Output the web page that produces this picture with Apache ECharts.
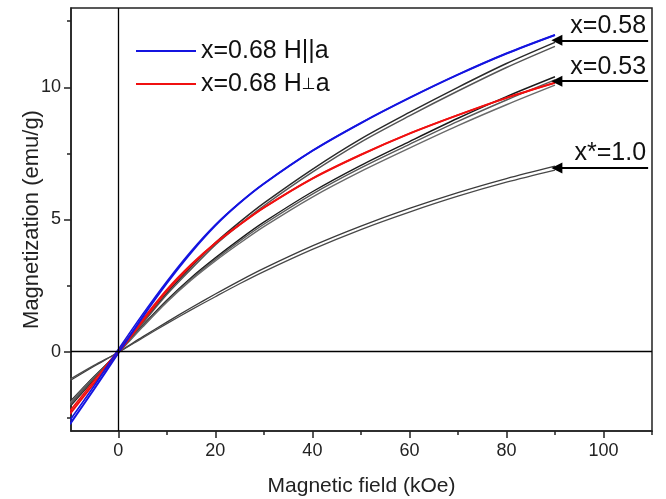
<!DOCTYPE html>
<html>
<head>
<meta charset="utf-8">
<script src="https://cdn.jsdelivr.net/npm/echarts@6/dist/echarts.min.js"></script>
<style>
  html, body { margin: 0; padding: 0; background: #fff; }
  #chart { width: 666px; height: 499px; }
</style>
</head>
<body>
<div id="chart"></div>
<script>
// Magnetic field sampling points (kOe)
const fieldKOe = [-10, -5, 0, 5, 10, 15, 20, 25, 30, 40, 50, 60, 70, 80, 90];

// Magnetization (emu/g), x = 0.68, field parallel to a (two sweep branches)
const m068ParA = [-2.75, -1.42, -0.05, 1.31, 2.59, 3.75, 4.77, 5.62, 6.35, 7.60, 8.65, 9.60, 10.48, 11.28, 11.98];
const m068ParB = [-2.60, -1.30, 0.08, 1.41, 2.66, 3.80, 4.80, 5.63, 6.36, 7.60, 8.65, 9.60, 10.48, 11.28, 11.98];
// x = 0.68, field perpendicular to a
const m068PerpA = [-2.36, -1.20, -0.05, 1.15, 2.30, 3.27, 4.10, 4.80, 5.45, 6.55, 7.45, 8.25, 8.95, 9.60, 10.17];
const m068PerpB = [-2.25, -1.10, 0.05, 1.22, 2.35, 3.30, 4.12, 4.81, 5.45, 6.55, 7.45, 8.25, 8.95, 9.60, 10.17];
// x = 0.58
const m058A = [-2.08, -1.05, -0.04, 1.10, 2.22, 3.20, 4.12, 4.90, 5.62, 6.90, 8.05, 9.05, 10.00, 10.90, 11.70];
const m058B = [-2.02, -1.00, -0.02, 1.07, 2.16, 3.12, 4.04, 4.81, 5.52, 6.79, 7.93, 8.92, 9.86, 10.75, 11.55];
// x = 0.53
const m053A = [-1.90, -0.94, -0.03, 0.99, 1.95, 2.80, 3.55, 4.25, 4.90, 6.05, 7.05, 7.95, 8.83, 9.65, 10.40];
const m053B = [-1.93, -0.96, -0.04, 0.96, 1.91, 2.75, 3.49, 4.18, 4.82, 5.96, 6.95, 7.84, 8.71, 9.52, 10.28];
const m053C = [-1.95, -0.98, -0.05, 0.93, 1.87, 2.70, 3.43, 4.10, 4.73, 5.85, 6.82, 7.70, 8.55, 9.34, 10.08];
// x* = 1.0
const m100A = [-1.10, -0.55, -0.02, 0.56, 1.12, 1.66, 2.18, 2.68, 3.15, 4.00, 4.75, 5.42, 6.02, 6.55, 7.02];
const m100B = [-1.05, -0.52, -0.03, 0.52, 1.06, 1.58, 2.08, 2.57, 3.03, 3.87, 4.62, 5.28, 5.88, 6.41, 6.87];

// Tick values
const xMajorTicks = [0, 20, 40, 60, 80, 100];
const xMinorTicks = [10, 30, 50, 70, 90, 110];
const yMajorTicks = [0, 5, 10];
const yMinorTicks = [-2.5, 2.5, 7.5, 12.5];

// Curve-end annotations
const noteLabels = ['x=0.58', 'x=0.53', 'x*=1.0'];
const noteLevels = [11.78, 10.23, 6.95];
const noteTip = 90.4;
const noteTail = 109.2;

const FONT = '"Liberation Sans", Arial, sans-serif';
const nameParA = 'x=0.68 H||a';
const namePerpA = 'x=0.68 H⊥a';

function curve(name, values, color, width, z) {
  return {
    name: name,
    type: 'line',
    data: fieldKOe.map((h, i) => [h, values[i]]),
    showSymbol: false,
    smooth: 0.3,
    lineStyle: { color: color, width: width },
    itemStyle: { color: color },
    z: z,
    silent: true,
    animation: false
  };
}

const series = [
  curve('x*=1.0 a', m100A, '#3c3c3c', 1.3, 2),
  curve('x*=1.0 b', m100B, '#4a4a4a', 1.3, 2),
  curve('x=0.53 a', m053A, '#1a1a1a', 1.4, 2),
  curve('x=0.53 b', m053B, '#5a5a5a', 1.4, 2),
  curve('x=0.53 c', m053C, '#6a6a6a', 1.4, 2),
  curve('x=0.58 a', m058A, '#2a2a2a', 1.5, 2),
  curve('x=0.58 b', m058B, '#555555', 1.5, 2),
  curve(namePerpA, m068PerpA, '#f01010', 2, 3),
  curve(namePerpA + ' b', m068PerpB, '#f01010', 1.6, 3),
  curve(nameParA, m068ParA, '#1414e0', 2, 4),
  curve(nameParA + ' b', m068ParB, '#1414e0', 1.6, 4)
];

// zero reference lines
series[0].markLine = {
  silent: true,
  animation: false,
  symbol: ['none', 'none'],
  lineStyle: { color: '#000', width: 1.3, type: 'solid' },
  label: { show: false },
  data: [{ xAxis: 0 }, { yAxis: 0 }]
};

// arrows with sample labels
series[1].markLine = {
  silent: true,
  animation: false,
  symbol: ['triangle', 'none'],
  symbolSize: 11,
  lineStyle: { color: '#000', width: 2, type: 'solid' },
  itemStyle: { color: '#000' },
  label: {
    show: true,
    position: 'insideEndTop',
    formatter: '{b}',
    fontFamily: FONT,
    fontSize: 25,
    color: '#111',
    distance: 2
  },
  data: noteLabels.map((t, i) => [
    { coord: [noteTip, noteLevels[i]], name: t },
    { coord: [noteTail, noteLevels[i]] }
  ])
};

const chart = echarts.init(document.getElementById('chart'), null, { renderer: 'canvas' });
chart.setOption({
  animation: false,
  backgroundColor: '#fff',
  grid: {
    left: 71, right: 14, top: 8, bottom: 68,
    outerBoundsMode: 'none',
    containLabel: false,
    show: true, borderColor: '#222', borderWidth: 1.5, backgroundColor: 'transparent'
  },
  legend: {
    data: [nameParA, namePerpA],
    orient: 'vertical',
    left: 131,
    top: 31,
    icon: 'rect',
    itemWidth: 60,
    itemHeight: 2,
    itemGap: 3,
    formatter: function (n) {
      return n === namePerpA ? '{t|x=0.68 H}{p|⊥}{t|a}' : '{t|' + n + '}';
    },
    textStyle: {
      fontFamily: FONT,
      fontSize: 25,
      lineHeight: 30,
      color: '#111',
      rich: {
        t: { fontFamily: FONT, fontSize: 25, lineHeight: 30, color: '#111' },
        p: { fontFamily: '"DejaVu Sans", sans-serif', fontSize: 16, lineHeight: 30, color: '#111', verticalAlign: 'bottom', padding: [0, 0, 6, 0] }
      }
    }
  },
  xAxis: [
    {
      type: 'value', min: -9.75, max: 110,
      position: 'bottom',
      name: 'Magnetic field (kOe)', nameLocation: 'middle', nameGap: 45,
      nameMoveOverlap: false,
      nameTextStyle: { fontFamily: FONT, fontSize: 21, color: '#222' },
      axisLine: { show: true, onZero: false, lineStyle: { color: '#222', width: 1.5 } },
      axisTick: { show: true, inside: false, length: 7, customValues: xMajorTicks, lineStyle: { color: '#222', width: 1.5 } },
      axisLabel: { customValues: xMajorTicks, margin: 11, fontFamily: FONT, fontSize: 18, color: '#222' },
      splitLine: { show: false }
    },
    {
      type: 'value', min: -9.75, max: 110,
      position: 'bottom',
      axisLine: { show: false, onZero: false },
      axisTick: { show: true, inside: false, length: 4, customValues: xMinorTicks, lineStyle: { color: '#222', width: 1.5 } },
      axisLabel: { show: false },
      splitLine: { show: false }
    }
  ],
  yAxis: [
    {
      type: 'value', min: -3, max: 13,
      position: 'left',
      name: 'Magnetization (emu/g)', nameLocation: 'middle', nameGap: 28,
      nameMoveOverlap: false,
      nameTextStyle: { fontFamily: FONT, fontSize: 22, color: '#222' },
      axisLine: { show: true, onZero: false, lineStyle: { color: '#222', width: 1.5 } },
      axisTick: { show: true, inside: false, length: 7, customValues: yMajorTicks, lineStyle: { color: '#222', width: 1.5 } },
      axisLabel: { customValues: yMajorTicks, margin: 10, fontFamily: FONT, fontSize: 18, color: '#222' },
      splitLine: { show: false }
    },
    {
      type: 'value', min: -3, max: 13,
      position: 'left',
      axisLine: { show: false, onZero: false },
      axisTick: { show: true, inside: false, length: 4, customValues: yMinorTicks, lineStyle: { color: '#222', width: 1.5 } },
      axisLabel: { show: false },
      splitLine: { show: false }
    }
  ],
  series: series
});
</script>
</body>
</html>
